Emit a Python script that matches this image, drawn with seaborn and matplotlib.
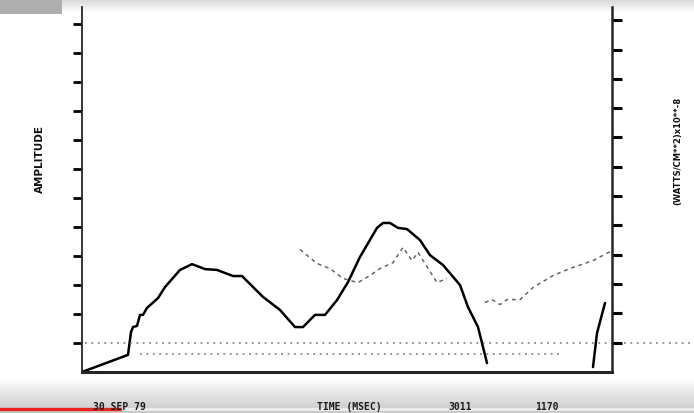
import numpy as np
import pandas as pd
import matplotlib
matplotlib.use("Agg")
import matplotlib.pyplot as plt
import seaborn as sns

# ---- data ----
# amplitude trace (solid), time in msec, amplitude in axis units
amp_time_a = [0, 46, 49, 51, 55, 58, 61, 65, 76, 83, 98, 110, 123, 135, 151, 160,
              181, 198, 213, 221, 233, 243, 255, 266, 278, 295, 301, 308, 316, 325,
              338, 348, 361, 378, 386, 396, 400, 405]
amp_val_a = [0.0, 0.59, 1.38, 1.55, 1.59, 1.97, 1.97, 2.21, 2.55, 2.93, 3.52, 3.72,
             3.55, 3.52, 3.31, 3.31, 2.59, 2.14, 1.55, 1.55, 1.97, 1.97, 2.48, 3.10,
             3.97, 4.97, 5.14, 5.14, 4.97, 4.93, 4.55, 4.03, 3.69, 3.00, 2.24, 1.55,
             1.00, 0.31]
amp_time_b = [511, 515, 523]
amp_val_b = [0.17, 1.34, 2.38]

# power trace (dashed), (WATTS/CM**2)x10**-8
pow_time_a = [218, 235, 248, 261, 276, 288, 298, 311, 321, 330, 336, 355, 365]
pow_val_a = [4.18, 3.70, 3.53, 3.19, 3.05, 3.29, 3.53, 3.73, 4.25, 3.80, 4.08, 3.05, 3.19]
pow_time_b = [403, 410, 418, 425, 438, 451, 471, 488, 511, 530]
pow_val_b = [2.37, 2.47, 2.30, 2.47, 2.47, 2.88, 3.29, 3.53, 3.80, 4.14]

# faint dotted baselines
base_levels = [1.00, 0.62]
base_start = [3, 58]
base_end = [612, 478]

left_ticks = list(range(1, 13))
right_ticks = list(range(1, 13))
bottom_texts = ["30 SEP 79", "TIME (MSEC)", "3011", "1170"]
left_label = "AMPLITUDE"
right_label = "(WATTS/CM**2)x10**-8"

amp_df = pd.DataFrame({
    "time": amp_time_a + amp_time_b,
    "value": amp_val_a + amp_val_b,
    "seg": ["a"] * len(amp_time_a) + ["b"] * len(amp_time_b),
})
pow_df = pd.DataFrame({
    "time": pow_time_a + pow_time_b,
    "value": pow_val_a + pow_val_b,
    "seg": ["a"] * len(pow_time_a) + ["b"] * len(pow_time_b),
})

sns.set_style("white")
plt.rcParams["font.family"] = ["DejaVu Sans"]

W, H = 694, 413
fig = plt.figure(figsize=(W / 100, H / 100), dpi=100)

# video-frame background (gray bands top and bottom)
bg = fig.add_axes([0, 0, 1, 1], zorder=-5)
yy = np.arange(H)[:, None]
img = np.ones((H, W))
top_band = np.clip(1 - yy / 12.0, 0, 1) * 0.15
bot_band = np.clip((yy - 378) / 35.0, 0, 1) * 0.22
img = img - top_band - bot_band
img[:14, :62] = np.minimum(img[:14, :62], 0.68)
bg.imshow(img, cmap="gray", vmin=0, vmax=1, aspect="auto", interpolation="bilinear")
bg.axis("off")

left, right = 82 / W, 612 / W
bottom, top = 1 - 372 / H, 1 - 7 / H
ax = fig.add_axes([left, bottom, right - left, top - bottom])
ax.patch.set_alpha(0)

sns.lineplot(data=amp_df, x="time", y="value", units="seg", estimator=None,
             color="black", linewidth=1.8, ax=ax, sort=False)
ax.hlines(base_levels, base_start, base_end, colors="#777777", linestyles=(0, (1.2, 3)),
          linewidth=1.1, clip_on=False)

ax.set_xlim(0, 530)
ax.set_ylim(0, 12.59)
ax.set_yticks(left_ticks)
ax.set_yticklabels([])
ax.set_xticks([])
ax.set_xlabel("")
ax.set_ylabel("")
for s in ["top", "right"]:
    ax.spines[s].set_visible(False)
ax.spines["left"].set_linewidth(1.3)
ax.spines["bottom"].set_linewidth(2.2)
ax.tick_params(axis="y", direction="out", length=6.5, width=2.0, color="black", left=True)

ax2 = ax.twinx()
sns.lineplot(data=pow_df, x="time", y="value", units="seg", estimator=None,
             color="#666666", linewidth=1.1, linestyle=(0, (2.5, 2.5)), ax=ax2, sort=False)
ax2.set_ylim(0, 12.45)
ax2.set_yticks(right_ticks)
ax2.set_yticklabels([])
ax2.set_ylabel("")
for s in ["top", "left", "bottom"]:
    ax2.spines[s].set_visible(False)
ax2.spines["right"].set_linewidth(1.8)
ax2.tick_params(axis="y", direction="out", length=7, width=2.2, color="black", right=True)

# labels
fig.text(40 / W, 1 - 159 / H, left_label, rotation=90, ha="center", va="center",
         fontsize=7.5, fontweight="bold", color="#111111")
fig.text(678 / W, 1 - 151 / H, right_label, rotation=90, ha="center", va="center",
         fontsize=6, fontweight="bold", color="#111111")
xpos = [119, 349, 460, 547]
for t, xp in zip(bottom_texts, xpos):
    fig.text(xp / W, 1 - 407 / H, t, ha="center", va="center", fontsize=7,
             fontweight="bold", family="DejaVu Sans Mono", color="#1a1a1a")

# video progress bar
fig.add_artist(plt.Line2D([0, 122 / W], [1 - 408.5 / H] * 2, color="#e8231c",
                          linewidth=2.4, transform=fig.transFigure))
fig.add_artist(plt.Line2D([122 / W, 1], [1 - 408.5 / H] * 2, color="#eeeeee",
                          linewidth=2.0, transform=fig.transFigure))

fig.savefig("out.png", dpi=100)
